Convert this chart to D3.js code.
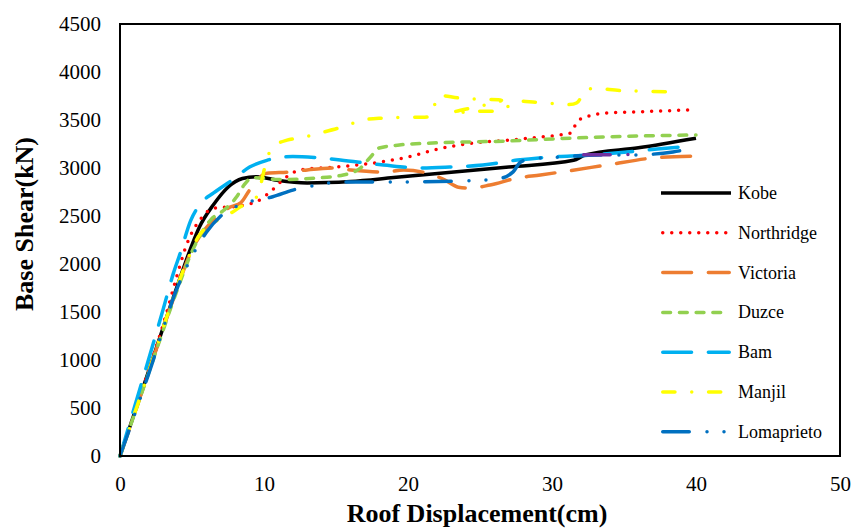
<!DOCTYPE html>
<html>
<head>
<meta charset="utf-8">
<script src="https://cdn.jsdelivr.net/npm/d3@7"></script>
<style>
  body { margin: 0; background: #fff; }
  svg { display: block; }
</style>
</head>
<body>
<div id="chart"></div>
<script>
// tick values
var xTicks = [0, 10, 20, 30, 40, 50];
var yTicks = [0, 500, 1000, 1500, 2000, 2500, 3000, 3500, 4000, 4500];

// series: [displacement cm, base shear kN]
var kobe = [[0,0],[2,890],[4,1780],[5,2200],[5.5,2380],[6.5,2620],[7.5,2800],[8.5,2890],[9.5,2910],
  [11,2870],[13,2845],[16,2860],[19,2900],[23,2955],[27,3010],[31.5,3080],[32.3,3135],[36,3210],[40,3310]];
var northridge = [[0,0],[2,900],[3,1370],[4,1900],[4.5,2150],[5,2330],[5.5,2450],[6.5,2580],[8,2600],
  [9.5,2650],[10.5,2760],[11.5,2900],[12.5,2980],[15,3010],[18,3060],[20,3115],[22,3195],[24.5,3260],
  [27,3290],[29,3320],[31.3,3365],[31.7,3470],[32.3,3530],[34,3575],[36,3585],[39.5,3605]];
var victoria = [[0,0],[2,880],[4,1760],[5,2150],[5.5,2280],[6.3,2430],[7.6,2590],[8.4,2640],[9,2770],
  [10.2,2945],[11.8,2958],[13,2980],[14.8,3000],[16,2980],[18.3,2958],[19.7,2978],[21.3,2948],[22.5,2880],
  [23.5,2800],[24.3,2790],[25.7,2823],[27.6,2896],[29.2,2927],[30.6,2958],[33.8,3031],[37,3104],[40,3125]];
var duzce = [[0,0],[2,870],[4,1740],[5,2130],[5.5,2280],[6.3,2460],[7.2,2560],[8.1,2700],[8.6,2820],
  [9.2,2900],[11,2880],[13.7,2896],[15.5,2927],[16.7,3000],[17.4,3115],[18,3208],[19.4,3240],[21.7,3260],
  [26.9,3281],[31.5,3312],[36,3333],[40,3344]];
var bam = [[0,0],[1.5,760],[3,1530],[3.7,1900],[4.2,2120],[4.9,2450],[5.6,2630],[6.5,2740],[7.8,2875],
  [9,3010],[10.2,3080],[12,3120],[13.5,3110],[15.3,3083],[18.3,3031],[21,3000],[22.9,3010],[25.2,3031],
  [27.6,3083],[29.9,3115],[32.6,3135],[35.2,3167],[37.3,3198],[39,3220]];
var manjil = [[0,0],[2,880],[4,1780],[5,2150],[5.6,2320],[6.5,2430],[7.8,2540],[8.3,2590],[9.5,2700],
  [9.9,2910],[10.1,3030],[10.6,3220],[11.6,3290],[12.5,3312],[13.9,3365],[15.5,3430],[16.9,3500],
  [18.3,3521],[19.9,3531],[21.7,3552],[22,3740],[23.5,3730],[25,3715],[26.5,3705],[23,3575],[24.5,3590],
  [26.5,3605],[27.5,3690],[29,3685],[31.7,3677],[32.3,3810],[35,3805],[39,3790]];
var lomaprieto = [[0,0],[2,860],[4,1760],[5,2080],[6,2330],[7,2500],[8.3,2615],[9,2650],[10.6,2700],
  [12,2770],[13.7,2823],[15.3,2855],[20,2855],[23.8,2865],[26.2,2885],[27.3,2960],[27.8,3060],[28.5,3094],
  [30.6,3115],[33.3,3135],[35.4,3135],[38.4,3167],[39.8,3208]];
var extra = [[32.2,3138],[34.4,3138],[35.5,3140]];

var series = [
  { name: "Kobe", data: kobe, color: "#000000", dash: null },
  { name: "Northridge", data: northridge, color: "#FF0000", dash: "0 9" },
  { name: "Victoria", data: victoria, color: "#ED7D31", dash: "28.8 16.8" },
  { name: "Duzce", data: duzce, color: "#92D050", dash: "7.8 8.9" },
  { name: "Bam", data: bam, color: "#00B0F0", dash: "28.8 16.8" },
  { name: "Manjil", data: manjil, color: "#FFFF00", dash: "12.2 16.8 0 16.8" },
  { name: "Lomaprieto", data: lomaprieto, color: "#0070C0", dash: "26.5 17.75 0 17 0 17.45" }
];
var hidden = { data: extra, color: "#7030A0", dash: "26.5 17.75 0 17 0 17.45" };

var svg = d3.select("#chart")
    .append("svg")
    .attr("width", 853)
    .attr("height", 529);

var x = d3.scaleLinear().domain([0, 50]).range([120, 840]);
var y = d3.scaleLinear().domain([0, 4500]).range([456, 24]);

var font = "'Liberation Serif', 'Times New Roman', serif";

// curves
var line = d3.line()
    .x(function(d) { return x(d[0]); })
    .y(function(d) { return y(d[1]); })
    .curve(d3.curveMonotoneX);
var lineLoop = d3.line()
    .x(function(d) { return x(d[0]); })
    .y(function(d) { return y(d[1]); })
    .curve(d3.curveCatmullRom.alpha(0.5));

series.concat([hidden]).forEach(function(s) {
    svg.append("path")
        .attr("d", s.name === "Manjil" ? lineLoop(s.data) : line(s.data))
        .attr("fill", "none")
        .attr("stroke", s.color)
        .attr("stroke-width", 3.5)
        .attr("stroke-linecap", s.dash ? "round" : "butt")
        .attr("stroke-linejoin", "round")
        .attr("stroke-dasharray", s.dash);
});

// plot border
svg.append("rect")
    .attr("x", x(0))
    .attr("y", y(4500))
    .attr("width", x(50) - x(0))
    .attr("height", y(0) - y(4500))
    .attr("fill", "none")
    .attr("stroke", "#000")
    .attr("stroke-width", 2);

// axes
var xAxis = svg.append("g")
    .attr("transform", "translate(0," + y(0) + ")")
    .call(d3.axisBottom(x).tickValues(xTicks).tickSize(0).tickPadding(20).tickFormat(d3.format("d")));
var yAxis = svg.append("g")
    .attr("transform", "translate(" + x(0) + ",0)")
    .call(d3.axisLeft(y).tickValues(yTicks).tickSize(0).tickPadding(19).tickFormat(d3.format("d")));
[xAxis, yAxis].forEach(function(g) {
    g.select(".domain").remove();
    g.selectAll("text")
        .attr("font-family", font)
        .attr("font-size", 21)
        .attr("fill", "#000");
});

// axis titles
svg.append("text")
    .attr("x", 477)
    .attr("y", 522)
    .attr("text-anchor", "middle")
    .attr("font-family", font)
    .attr("font-weight", "bold")
    .attr("font-size", 26)
    .text("Roof Displacement(cm)");
svg.append("text")
    .attr("transform", "translate(33,224) rotate(-90)")
    .attr("text-anchor", "middle")
    .attr("font-family", font)
    .attr("font-weight", "bold")
    .attr("font-size", 26)
    .text("Base Shear(kN)");

// legend
var legend = svg.selectAll(".legend")
    .data(series)
    .enter().append("g")
    .attr("class", "legend")
    .attr("transform", function(d, i) { return "translate(661," + (193 + i * 39.8) + ")"; });
legend.append("line")
    .attr("x1", function(d) { return d.dash ? 1.75 : 0; })
    .attr("x2", function(d) { return d.dash ? 68.25 : 70; })
    .attr("stroke", function(d) { return d.color; })
    .attr("stroke-width", 3.5)
    .attr("stroke-linecap", function(d) { return d.dash ? "round" : "butt"; })
    .attr("stroke-dasharray", function(d) { return d.dash; });
legend.append("text")
    .attr("x", 77)
    .attr("y", 6)
    .attr("font-family", font)
    .attr("font-size", 18)
    .text(function(d) { return d.name; });
</script>
</body>
</html>
